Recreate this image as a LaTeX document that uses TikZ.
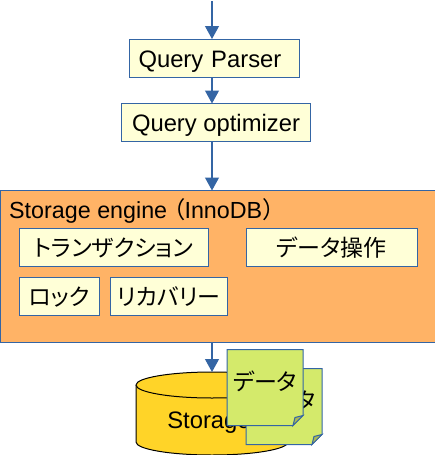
\documentclass[tikz,border=0pt]{standalone}
\usepackage{fontspec}
\setmainfont{Liberation Sans}
\newfontfamily\cjk[RawFeature=+palt]{Noto Sans CJK JP}
\newfontfamily\cjkwide{Noto Sans CJK JP}
\usetikzlibrary{positioning}
\usetikzlibrary{arrows.meta}
\usetikzlibrary{calc}

\definecolor{lineblue}{HTML}{3465A4}
\definecolor{boxyellow}{HTML}{FFFFD7}
\definecolor{engineorange}{HTML}{FFB366}
\definecolor{diskyellow}{HTML}{FFD428}
\definecolor{notegreen}{HTML}{D4EA6B}
\definecolor{foldgreen}{HTML}{AAB856}

\tikzset{
  flow/.style = {draw=lineblue, line width=1.2pt, -{Triangle[length=13pt,width=14pt]}},
  box/.style = {draw=lineblue, fill=boxyellow, line width=1pt, minimum height=38pt,
    inner sep=0pt, outer sep=0pt, anchor=north west, text height=20pt, text depth=2pt,
    font=\fontsize{23.8}{26}\selectfont},
  jpbox/.style = {box, font=\fontsize{23}{26}\selectfont\cjk},
  disk/.style = {draw=black, fill=diskyellow, line width=1pt},
  note/.style = {draw=lineblue, fill=notegreen, line width=1pt},
  fold/.style = {draw=lineblue, fill=foldgreen, line width=1pt}
}

\newcommand{\notepage}[3]{
  \draw[note, shift={(#2)}] (0,0) -- (76,0) -- (76,66) -- (66,76) -- (0,76) -- cycle;
  \draw[fold, shift={(#2)}] (76,66) -- (68,68) -- (66,76) -- cycle;
  \node[inner sep=0pt, outer sep=0pt, font=\fontsize{23}{26}\selectfont] (#1) at ($(#2)+(38,#3)$) {\cjk データ};
}

\begin{document}
\begin{tikzpicture}[x=1pt, y=-1pt]
  \useasboundingbox (0,0) rectangle (435,455);

  \coordinate (entry) at (212,1);
  \coordinate (disktop) at (212,372);

  \node[box, minimum width=170pt, text width=152pt, align=left] (parser) at (129.5,39) {Query Parser};
  \node[box, minimum width=189pt] (optimizer) at (121.5,103.5) {Query optimizer};
  \node[box, fill=engineorange, minimum width=435pt, minimum height=152pt] (engine) at (0,190.5) {};
  \node[anchor=west, inner sep=0pt, font=\fontsize{23.3}{26}\selectfont] (title) at (9,210.5) {Storage engine\hspace{-5pt}{\cjkwide （}\hspace{-1pt}InnoDB{\cjkwide ）}};

  \node[jpbox, minimum width=189pt] (tx) at (19,228) {トランザクション};
  \node[jpbox, minimum width=171pt] (dataop) at (246,228) {データ操作};
  \node[jpbox, minimum width=80pt] (lock) at (19,277.5) {ロック};
  \node[jpbox, minimum width=117pt] (recovery) at (110,277.5) {リカバリー};

  % disk sits under the two pages
  \draw[disk] (136,385) -- (136,442) arc[start angle=180, end angle=0, x radius=76, y radius=13]
    -- (288,385) arc[start angle=0, end angle=-180, x radius=76, y radius=13] -- cycle;
  \draw[disk] (136,385) arc[start angle=180, end angle=0, x radius=76, y radius=13];
  \node[inner sep=0pt, font=\fontsize{23.8}{26}\selectfont] (disktext) at (209,423) {Storage};

  \notepage{pageback}{246,368.5}{32}
  \notepage{pagefront}{227,349.5}{32}

  \draw[flow] (entry) -- (entry |- parser.north);
  \draw[flow] (entry |- parser.south) -- (entry |- optimizer.north);
  \draw[flow] (entry |- optimizer.south) -- (entry |- engine.north);
  \draw[flow] (entry |- engine.south) -- (disktop);
\end{tikzpicture}
\end{document}
